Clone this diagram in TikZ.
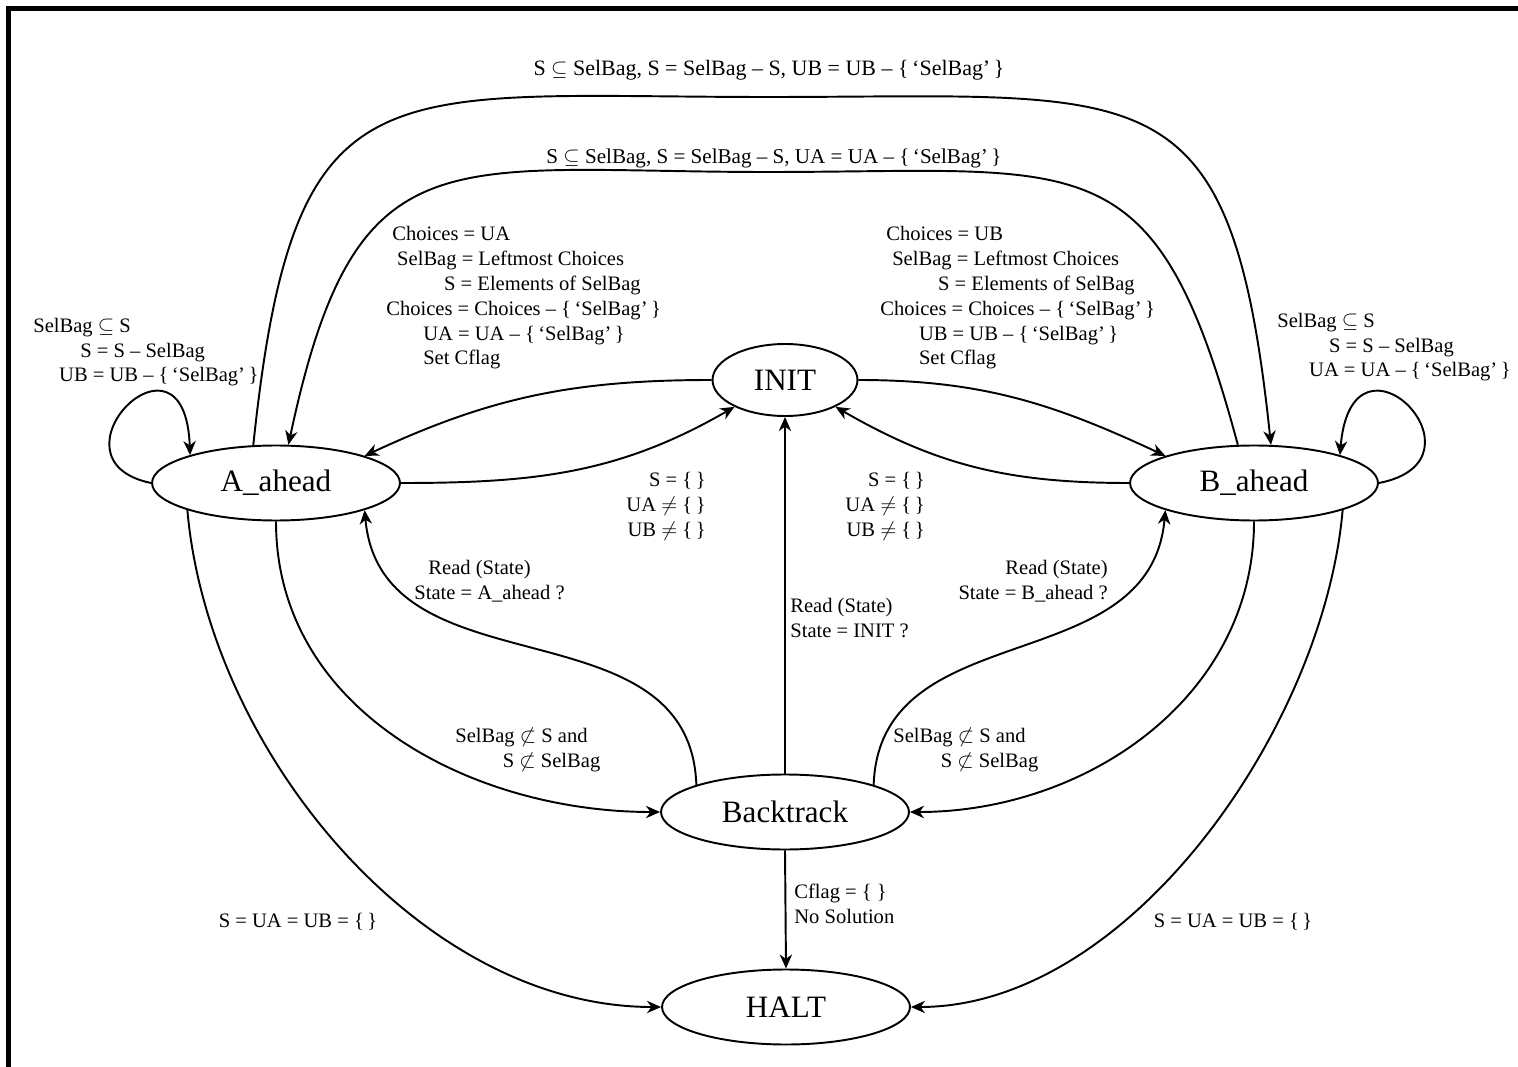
\documentclass[tikz,border=0pt]{standalone}
\usepackage{fontspec}
\setmainfont{Liberation Serif}
\usetikzlibrary{arrows.meta,shapes.geometric}

\begin{document}
\begin{tikzpicture}[x=0.02cm,y=0.02cm,
    state/.style={draw,ellipse,line width=1.1pt,inner sep=0pt,minimum width=4.96cm,minimum height=1.5cm,font=\fontsize{17.7}{20}\selectfont},
    lbl/.style={inner sep=0pt,font=\fontsize{11.7}{14.2}\selectfont},
    edge/.style={line width=1.1pt,-{Stealth[length=8pt,width=7pt,inset=2.5pt]}}]
    \useasboundingbox (0,0) rectangle (1518,-1067);
    \draw[line width=2.8pt] (8.5,-1067) -- (8.5,-8.5) -- (1518,-8.5);

    \node[state,minimum width=2.9cm,minimum height=1.44cm] (init) at (785,-380) {INIT};
    \node[state] (aahead) at (276,-483) {A\_ahead};
    \node[state] (bahead) at (1254,-483) {B\_ahead};
    \node[state] (back) at (785,-812) {Backtrack};
    \node[state] (halt) at (786,-1007) {HALT};

    \coordinate (outertop) at (768,-97);
    \coordinate (innertop) at (768,-172);

    \draw[edge] (init.west) to[out=180,in=25] (aahead.17);
    \draw[edge] (aahead.east) to[out=0,in=210] (init.208);
    \draw[edge] (init.east) to[out=0,in=155] (bahead.163);
    \draw[edge] (bahead.west) to[out=180,in=-30] (init.332);
    \draw[edge] (back.north) -- (init.south);
    \draw[edge] (back.163) to[out=92,in=-85,looseness=1.1] (aahead.-17);
    \draw[edge] (back.17) to[out=88,in=-95,looseness=1.1] (bahead.197);
    \draw[edge] (aahead.south) to[out=-90,in=180] (back.west);
    \draw[edge] (bahead.south) to[out=-90,in=0] (back.east);
    \draw[edge] (aahead.197) to[out=-85,in=180,looseness=0.9] (halt.west);
    \draw[edge] (bahead.-17) to[out=-95,in=0,looseness=0.85] (halt.east);
    \draw[edge] (back.south) -- (halt.north);
    % self loops
    \draw[edge] (aahead.west) .. controls (40,-460) and (185,-312) .. (aahead.162);
    \draw[edge] (bahead.east) .. controls (1497,-460) and (1352,-312) .. (bahead.18);
    % the two arcs over the top
    \draw[edge] (aahead.121) to[out=84,in=180,looseness=1.6] (outertop) to[out=0,in=96,looseness=1.6] (bahead.66);
    \draw[edge] (bahead.113) to[out=105,in=0,looseness=1.5] (innertop) to[out=180,in=78,looseness=1.5] (aahead.72);

    \node[lbl,anchor=base,font=\fontsize{12.5}{14.2}\selectfont] (lbltop) at (769,-76) {S $\subseteq$ SelBag, S = SelBag -- S, UB = UB -- \{\,`SelBag'\,\}};
    \node[lbl,anchor=base,font=\fontsize{12}{14.2}\selectfont] (lblinner) at (774,-164) {S $\subseteq$ SelBag, S = SelBag -- S, UA = UA -- \{\,`SelBag'\,\}};
    \node[lbl,anchor=base west,align=left] (lblinita) at (386,-365) {\hspace*{3.4pt}Choices = UA\\ \hspace*{6.2pt}SelBag = Leftmost Choices\\ \hspace*{32.9pt}S = Elements of SelBag\\ Choices = Choices -- \{\,`SelBag'\,\}\\ \hspace*{21pt}UA = UA -- \{\,`SelBag'\,\}\\ \hspace*{21pt}Set Cflag};
    \node[lbl,anchor=base west,align=left] (lblinitb) at (880,-365) {\hspace*{3.4pt}Choices = UB\\ \hspace*{6.8pt}SelBag = Leftmost Choices\\ \hspace*{32.9pt}S = Elements of SelBag\\ Choices = Choices -- \{\,`SelBag'\,\}\\ \hspace*{22pt}UB = UB -- \{\,`SelBag'\,\}\\ \hspace*{22pt}Set Cflag};
    \node[lbl,anchor=base west,align=left] (lblloopa) at (33,-382) {SelBag $\subseteq$ S\\ \hspace*{26.7pt}S = S -- SelBag\\ \hspace*{14.7pt}UB = UB -- \{\,`SelBag'\,\}};
    \node[lbl,anchor=base west,align=left] (lblloopb) at (1277,-377) {SelBag $\subseteq$ S\\ \hspace*{29.5pt}S = S -- SelBag\\ \hspace*{18.1pt}UA = UA -- \{\,`SelBag'\,\}};
    \node[lbl,anchor=base east,align=right] (lblemptya) at (706,-536) {S = \{\,\}\\ UA $\neq$ \{\,\}\\ UB $\neq$ \{\,\}};
    \node[lbl,anchor=base east,align=right] (lblemptyb) at (925,-536) {S = \{\,\}\\ UA $\neq$ \{\,\}\\ UB $\neq$ \{\,\}};
    \node[lbl,anchor=base west,align=left] (lblreada) at (414,-599) {\hspace*{8pt}Read (State)\\ State = A\_ahead ?};
    \node[lbl,anchor=base east,align=right] (lblreadb) at (1108,-599) {Read (State)\\ State = B\_ahead ?};
    \node[lbl,anchor=base west,align=left] (lblreadinit) at (790,-637) {Read (State)\\ State = INIT ?};
    \node[lbl,anchor=base west,align=left] (lblnsuba) at (455,-767) {SelBag $\not\subset$ S and\\ \hspace*{27pt}S $\not\subset$ SelBag};
    \node[lbl,anchor=base west,align=left] (lblnsubb) at (893,-767) {SelBag $\not\subset$ S and\\ \hspace*{27pt}S $\not\subset$ SelBag};
    \node[lbl,anchor=base west,align=left] (lblcflag) at (794,-923) {Cflag = \{\ \}\\ No Solution};
    \node[lbl,anchor=base] (lblhalta) at (298,-927) {S = UA = UB = \{\,\}};
    \node[lbl,anchor=base] (lblhaltb) at (1233,-927) {S = UA = UB = \{\,\}};
\end{tikzpicture}
\end{document}
